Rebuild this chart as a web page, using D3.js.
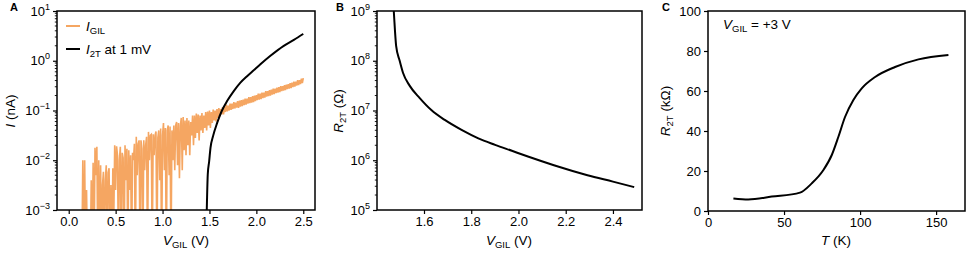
<!DOCTYPE html>
<html>
<head>
<meta charset="utf-8">
<script src="https://cdn.jsdelivr.net/npm/d3@7"></script>
<style>
  body { margin: 0; background: #fff; }
  svg { font-family: "Liberation Sans", Arial, sans-serif; }
</style>
</head>
<body>
<svg id="fig" width="968" height="253"></svg>
<script>
// ---- data ----
// panel A, gate leakage current I_GIL, log10(I / nA), sweep 0.14 V .. 2.50 V in 0.01 V steps
// (-4 = below the axis, i.e. zero / negative reading)
var gilStart = 0.14, gilStep = 0.01
var gilLogI = [
  -4, -2.0, -4, -2.0, -4, -2.6, -4, -4, -4, -4,
  -2.4, -4, -2.05, -4, -1.75, -2.3, -1.73, -4, -2.0, -4,
  -2.1, -4, -2.5, -2.23, -4, -2.4, -2.1, -4, -2.25, -2.16,
  -4, -2.5, -4, -2.16, -3.2, -1.7, -2.6, -1.72, -1.9, -4,
  -2.0, -1.73, -4, -1.85, -1.95, -4, -1.7, -2.4, -1.77, -4,
  -1.8, -2.6, -1.9, -4, -1.85, -2.0, -1.67, -4, -1.53, -2.3,
  -1.67, -1.6, -4, -1.6, -1.77, -4, -1.6, -2.2, -1.7, -1.53,
  -4, -1.43, -2.0, -1.5, -1.48, -4, -1.48, -1.9, -1.5, -1.42,
  -4, -1.55, -1.4, -2.4, -1.36, -4, -1.5, -1.25, -2.2, -1.35,
  -4, -1.4, -1.3, -2.3, -1.32, -4, -1.4, -2.0, -1.3, -2.2,
  -1.3, -1.23, -2.1, -1.25, -2.36, -1.3, -1.15, -2.2, -1.13, -1.8,
  -1.2, -1.9, -1.15, -1.7, -1.2, -1.9, -1.23, -1.5, -1.1, -1.7,
  -1.1, -1.55, -1.06, -1.45, -1.08, -1.6, -1.1, -1.4, -1.05, -1.45,
  -1.1, -1.35, -1.03, -1.4, -1.02, -1.3, -1.0, -1.35, -1.03, -1.25,
  -0.98, -1.2, -1.0, -1.22, -0.97, -1.15, -0.95, -1.12, -0.97, -1.08,
  -0.93, -1.08, -0.92, -1.03, -0.88, -1.02, -0.9, -1.0, -0.86, -0.99,
  -0.86, -0.97, -0.83, -0.96, -0.84, -0.94, -0.81, -0.95, -0.8, -0.92,
  -0.79, -0.91, -0.78, -0.89, -0.76, -0.88, -0.76, -0.86, -0.73, -0.85,
  -0.73, -0.84, -0.71, -0.83, -0.7, -0.81, -0.69, -0.79, -0.66, -0.78,
  -0.66, -0.77, -0.64, -0.75, -0.64, -0.74, -0.61, -0.72, -0.61, -0.71,
  -0.59, -0.7, -0.58, -0.68, -0.56, -0.67, -0.56, -0.65, -0.54, -0.64,
  -0.53, -0.63, -0.51, -0.61, -0.51, -0.6, -0.49, -0.59, -0.48, -0.57,
  -0.47, -0.56, -0.45, -0.55, -0.44, -0.53, -0.42, -0.52, -0.42, -0.5,
  -0.39, -0.49, -0.39, -0.47, -0.36, -0.45, -0.35
]
// panel A, two-terminal current at 1 mV, log10(I / nA)
var i2tV    = [1.466, 1.472, 1.482, 1.497, 1.511, 1.539, 1.582, 1.631, 1.688, 1.759, 1.830, 1.901, 1.972, 2.043, 2.150, 2.292, 2.400, 2.500]
var i2tLogI = [-3.4, -2.95, -2.28, -2.02, -1.75, -1.51, -1.25, -1.01, -0.81, -0.61, -0.44, -0.31, -0.19, -0.07, 0.10, 0.30, 0.42, 0.54]
// panel B, R_2T vs V_GIL, log10(R / ohm)
var r2tV    = [1.468, 1.472, 1.482, 1.497, 1.511, 1.539, 1.582, 1.631, 1.688, 1.759, 1.830, 1.901, 1.972, 2.043, 2.150, 2.292, 2.400, 2.490]
var r2tLogR = [9.3, 9.0, 8.3, 8.0, 7.76, 7.5, 7.25, 7.01, 6.81, 6.61, 6.44, 6.31, 6.19, 6.07, 5.90, 5.70, 5.57, 5.46]
// panel C, R_2T (kOhm) vs T (K)
var tempK = [16.7, 26.5, 41.9, 60.5, 68.2, 75.9, 81.4, 85.7, 90.1, 95.6, 101.1, 109.9, 123, 138.4, 158.1]
var rK    = [6.3, 5.8, 7.2, 9.2, 13.8, 20.5, 28, 37, 47, 55.5, 61.3, 67, 72, 75.8, 78]

var ticksA = [0.0, 0.5, 1.0, 1.5, 2.0, 2.5]
var ticksB = [1.6, 1.8, 2.0, 2.2, 2.4]
var ticksC = [0, 50, 100, 150]
var ticksCy = [0, 20, 40, 60, 80, 100]

var orange = '#f5a662'
var svg = d3.select('#fig')
var fs = 13

function supLabel(sel) {
    sel.each(function(d) {
        var t = d3.select(this).text('')
        t.append('tspan').text('10')
        var e = Math.round(Math.log10(d))
        t.append('tspan').attr('dy', -6).style('font-size', '9px').text(String(e).replace('-', '\u2212'))
    })
}

function axisLabel(g, parts, attrs) {
    var t = g.append('text').style('font-size', '13.5px').attr('fill', '#000')
    for (var k in attrs) t.attr(k, attrs[k])
    parts.forEach(function(p) {
        var s = t.append('tspan').text(p.t)
        if (p.i) s.style('font-style', 'italic')
        if (p.sub) s.style('font-size', '9.5px').attr('dy', 3)
        if (p.up) s.attr('dy', -3)
    })
    return t
}

function panel(id, x0, x1, y0, y1) {
    var g = svg.append('g')
    g.append('clipPath').attr('id', 'clip' + id)
     .append('rect').attr('x', x0).attr('y', y0).attr('width', x1 - x0).attr('height', y1 - y0)
    return g
}

function frame(g, x0, x1, y0, y1) {
    g.append('rect').attr('x', x0).attr('y', y0).attr('width', x1 - x0).attr('height', y1 - y0)
     .attr('fill', 'none').attr('stroke', '#000').attr('stroke-width', 1.5)
}

function styleAxis(ax) {
    ax.select('.domain').remove()
    ax.selectAll('.tick line').attr('stroke', '#000').attr('stroke-width', 1.2)
    ax.selectAll('.tick text').style('font-size', fs + 'px').attr('fill', '#000')
}

function logMinor(g, yscale, x0, lo, hi) {
    var m = []
    for (var e = lo; e < hi; e++) for (var k = 2; k <= 9; k++) m.push(k * Math.pow(10, e))
    g.selectAll(null).data(m).enter().append('line')
     .attr('x1', x0).attr('x2', x0 - 2.2)
     .attr('y1', function(d) { return yscale(d) }).attr('y2', function(d) { return yscale(d) })
     .attr('stroke', '#000').attr('stroke-width', 0.9)
}

// ---------------- Panel A ----------------
var ax0 = 57, ax1 = 315, ay0 = 11, ay1 = 210
var gA = panel('A', ax0, ax1, ay0, ay1)
var xA = d3.scaleLinear().domain([-0.125, 2.625]).range([ax0, ax1])
var yA = d3.scaleLog().domain([1e-3, 10]).range([ay1, ay0])

var gilData = gilLogI.map(function(v, i) { return [gilStart + i * gilStep, Math.pow(10, v)] })
var i2tData = i2tV.map(function(v, i) { return [v, Math.pow(10, i2tLogI[i])] })

var lineA = d3.line().x(function(d) { return xA(d[0]) }).y(function(d) { return yA(d[1]) })
gA.append('path').datum(gilData).attr('d', lineA).attr('clip-path', 'url(#clipA)')
  .attr('fill', 'none').attr('stroke', orange).attr('stroke-width', 1.6).attr('stroke-linejoin', 'miter')
gA.append('path').datum(i2tData).attr('d', lineA.curve(d3.curveMonotoneX)).attr('clip-path', 'url(#clipA)')
  .attr('fill', 'none').attr('stroke', '#000').attr('stroke-width', 2)

var xaxA = gA.append('g').attr('transform', 'translate(0,' + ay1 + ')')
  .call(d3.axisBottom(xA).tickValues(ticksA).tickFormat(d3.format('.1f')).tickSize(4).tickPadding(3))
styleAxis(xaxA)
var yaxA = gA.append('g').attr('transform', 'translate(' + ax0 + ',0)')
  .call(d3.axisLeft(yA).tickValues([1e-3, 1e-2, 1e-1, 1, 10]).tickSize(4).tickPadding(3))
styleAxis(yaxA)
supLabel(yaxA.selectAll('.tick text'))
logMinor(gA, yA, ax0, -3, 1)
frame(gA, ax0, ax1, ay0, ay1)

// legend
gA.append('line').attr('x1', 66).attr('x2', 80).attr('y1', 26).attr('y2', 26).attr('stroke', orange).attr('stroke-width', 2)
axisLabel(gA, [{t: 'I', i: true}, {t: 'GIL', sub: true}], {x: 86, y: 31})
gA.append('line').attr('x1', 66).attr('x2', 80).attr('y1', 49).attr('y2', 49).attr('stroke', '#000').attr('stroke-width', 2)
axisLabel(gA, [{t: 'I', i: true}, {t: '2T', sub: true}, {t: ' at 1 mV', up: true}], {x: 86, y: 54})

axisLabel(gA, [{t: 'V', i: true}, {t: 'GIL', sub: true}, {t: ' (V)', up: true}], {x: 186, y: 245, 'text-anchor': 'middle'})
axisLabel(gA, [{t: 'I', i: true}, {t: ' (nA)'}], {transform: 'translate(15,111) rotate(-90)', 'text-anchor': 'middle'})
svg.append('text').attr('x', 10).attr('y', 11).style('font-size', '11px').style('font-weight', 'bold').text('A')

// ---------------- Panel B ----------------
var bx0 = 377, bx1 = 642, by0 = 11, by1 = 210
var gB = panel('B', bx0, bx1, by0, by1)
var xB = d3.scaleLinear().domain([1.401, 2.523]).range([bx0, bx1])
var yB = d3.scaleLog().domain([1e5, 1e9]).range([by1, by0])
var r2tData = r2tV.map(function(v, i) { return [v, Math.pow(10, r2tLogR[i])] })
gB.append('path').datum(r2tData)
  .attr('d', d3.line().curve(d3.curveMonotoneX).x(function(d) { return xB(d[0]) }).y(function(d) { return yB(d[1]) }))
  .attr('clip-path', 'url(#clipB)').attr('fill', 'none').attr('stroke', '#000').attr('stroke-width', 2)

var xaxB = gB.append('g').attr('transform', 'translate(0,' + by1 + ')')
  .call(d3.axisBottom(xB).tickValues(ticksB).tickFormat(d3.format('.1f')).tickSize(4).tickPadding(3))
styleAxis(xaxB)
var yaxB = gB.append('g').attr('transform', 'translate(' + bx0 + ',0)')
  .call(d3.axisLeft(yB).tickValues([1e5, 1e6, 1e7, 1e8, 1e9]).tickSize(4).tickPadding(3))
styleAxis(yaxB)
supLabel(yaxB.selectAll('.tick text'))
logMinor(gB, yB, bx0, 5, 9)
frame(gB, bx0, bx1, by0, by1)

axisLabel(gB, [{t: 'V', i: true}, {t: 'GIL', sub: true}, {t: ' (V)', up: true}], {x: 509, y: 245, 'text-anchor': 'middle'})
axisLabel(gB, [{t: 'R', i: true}, {t: '2T', sub: true}, {t: ' (\u03A9)', up: true}], {transform: 'translate(343,111) rotate(-90)', 'text-anchor': 'middle'})
svg.append('text').attr('x', 336).attr('y', 11).style('font-size', '11px').style('font-weight', 'bold').text('B')

// ---------------- Panel C ----------------
var cx0 = 708, cx1 = 965, cy0 = 11, cy1 = 211
var gC = panel('C', cx0, cx1, cy0, cy1)
var xC = d3.scaleLinear().domain([0, 169]).range([cx0, cx1])
var yC = d3.scaleLinear().domain([0, 100]).range([cy1, cy0])
gC.append('path').datum(tempK.map(function(t, i) { return [t, rK[i]] }))
  .attr('d', d3.line().curve(d3.curveMonotoneX).x(function(d) { return xC(d[0]) }).y(function(d) { return yC(d[1]) }))
  .attr('clip-path', 'url(#clipC)').attr('fill', 'none').attr('stroke', '#000').attr('stroke-width', 2)

var xaxC = gC.append('g').attr('transform', 'translate(0,' + cy1 + ')')
  .call(d3.axisBottom(xC).tickValues(ticksC).tickSize(4).tickPadding(3))
styleAxis(xaxC)
var yaxC = gC.append('g').attr('transform', 'translate(' + cx0 + ',0)')
  .call(d3.axisLeft(yC).tickValues(ticksCy).tickSize(4).tickPadding(3))
styleAxis(yaxC)
frame(gC, cx0, cx1, cy0, cy1)

axisLabel(gC, [{t: 'V', i: true}, {t: 'GIL', sub: true}, {t: ' =  +3 V', up: true}], {x: 723, y: 29})
axisLabel(gC, [{t: 'T', i: true}, {t: ' (K)'}], {x: 836, y: 245, 'text-anchor': 'middle'})
axisLabel(gC, [{t: 'R', i: true}, {t: '2T', sub: true}, {t: ' (k\u03A9)', up: true}], {transform: 'translate(670,111) rotate(-90)', 'text-anchor': 'middle'})
svg.append('text').attr('x', 662).attr('y', 11).style('font-size', '11px').style('font-weight', 'bold').text('C')
</script>
</body>
</html>
